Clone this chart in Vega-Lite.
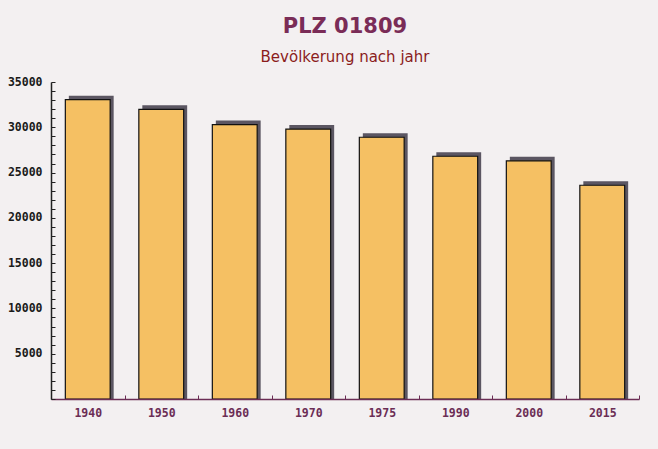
{
  "$schema": "https://vega.github.io/schema/vega-lite/v6.json",
  "width": 588,
  "height": 317,
  "autosize": {"type": "none"},
  "padding": {"left": 51, "top": 82, "right": 19, "bottom": 50},
  "background": "#f3f0f1",
  "title": {
    "text": "PLZ 01809",
    "subtitle": "Bevölkerung nach jahr",
    "font": "DejaVu Sans",
    "fontSize": 21,
    "fontWeight": "bold",
    "color": "#7a2c57",
    "subtitleFont": "DejaVu Sans",
    "subtitleFontSize": 15,
    "subtitleColor": "#8b1c1c",
    "subtitlePadding": 13,
    "anchor": "middle",
    "offset": 11
  },
  "data": {
    "values": [
      {"jahr": "1940", "einwohner": 33050},
      {"jahr": "1950", "einwohner": 31980},
      {"jahr": "1960", "einwohner": 30300},
      {"jahr": "1970", "einwohner": 29800},
      {"jahr": "1975", "einwohner": 28900},
      {"jahr": "1990", "einwohner": 26800},
      {"jahr": "2000", "einwohner": 26300},
      {"jahr": "2015", "einwohner": 23600}
    ]
  },
  "encoding": {
    "x": {
      "field": "jahr",
      "type": "ordinal",
      "scale": {"paddingInner": 0, "paddingOuter": 0},
      "axis": {
        "title": null,
        "labelAngle": 0,
        "labelFont": "DejaVu Sans Mono",
        "labelFontWeight": "bold",
        "labelFontSize": 11.5,
        "labelColor": "#6b2d55",
        "labelPadding": 12,
        "ticks": true,
        "tickBand": "extent",
        "tickSize": -4,
        "tickWidth": 1,
        "tickColor": "#6b2d55",
        "domainColor": "#6b2d55",
        "domainWidth": 1.5,
        "zindex": 1
      }
    },
    "y": {
      "field": "einwohner",
      "type": "quantitative",
      "scale": {"domain": [0, 35000], "nice": false},
      "axis": {
        "title": null,
        "grid": false,
        "values": [0,1000,2000,3000,4000,5000,6000,7000,8000,9000,10000,11000,12000,13000,14000,15000,16000,17000,18000,19000,20000,21000,22000,23000,24000,25000,26000,27000,28000,29000,30000,31000,32000,33000,34000,35000],
        "format": "d",
        "labelExpr": "datum.value % 5000 == 0 && datum.value > 0 ? datum.label : ''",
        "labelFont": "DejaVu Sans Mono",
        "labelFontWeight": "bold",
        "labelFontSize": 11.5,
        "labelColor": "#1a1a1a",
        "labelPadding": 13,
        "tickSize": -4,
        "tickColor": "#222222",
        "domainColor": "#222222",
        "domainWidth": 1.5,
        "zindex": 1
      }
    }
  },
  "layer": [
    {
      "mark": {"type": "bar", "color": "#5b5662", "width": {"band": 0.61}, "xOffset": 3.5, "yOffset": -4, "y2Offset": 0},
      "encoding": {"y2": {"datum": 0}}
    },
    {
      "mark": {"type": "bar", "color": "#f5c063", "stroke": "#111111", "strokeWidth": 1.2, "width": {"band": 0.61}}
    }
  ],
  "config": {"view": {"stroke": null}}
}
